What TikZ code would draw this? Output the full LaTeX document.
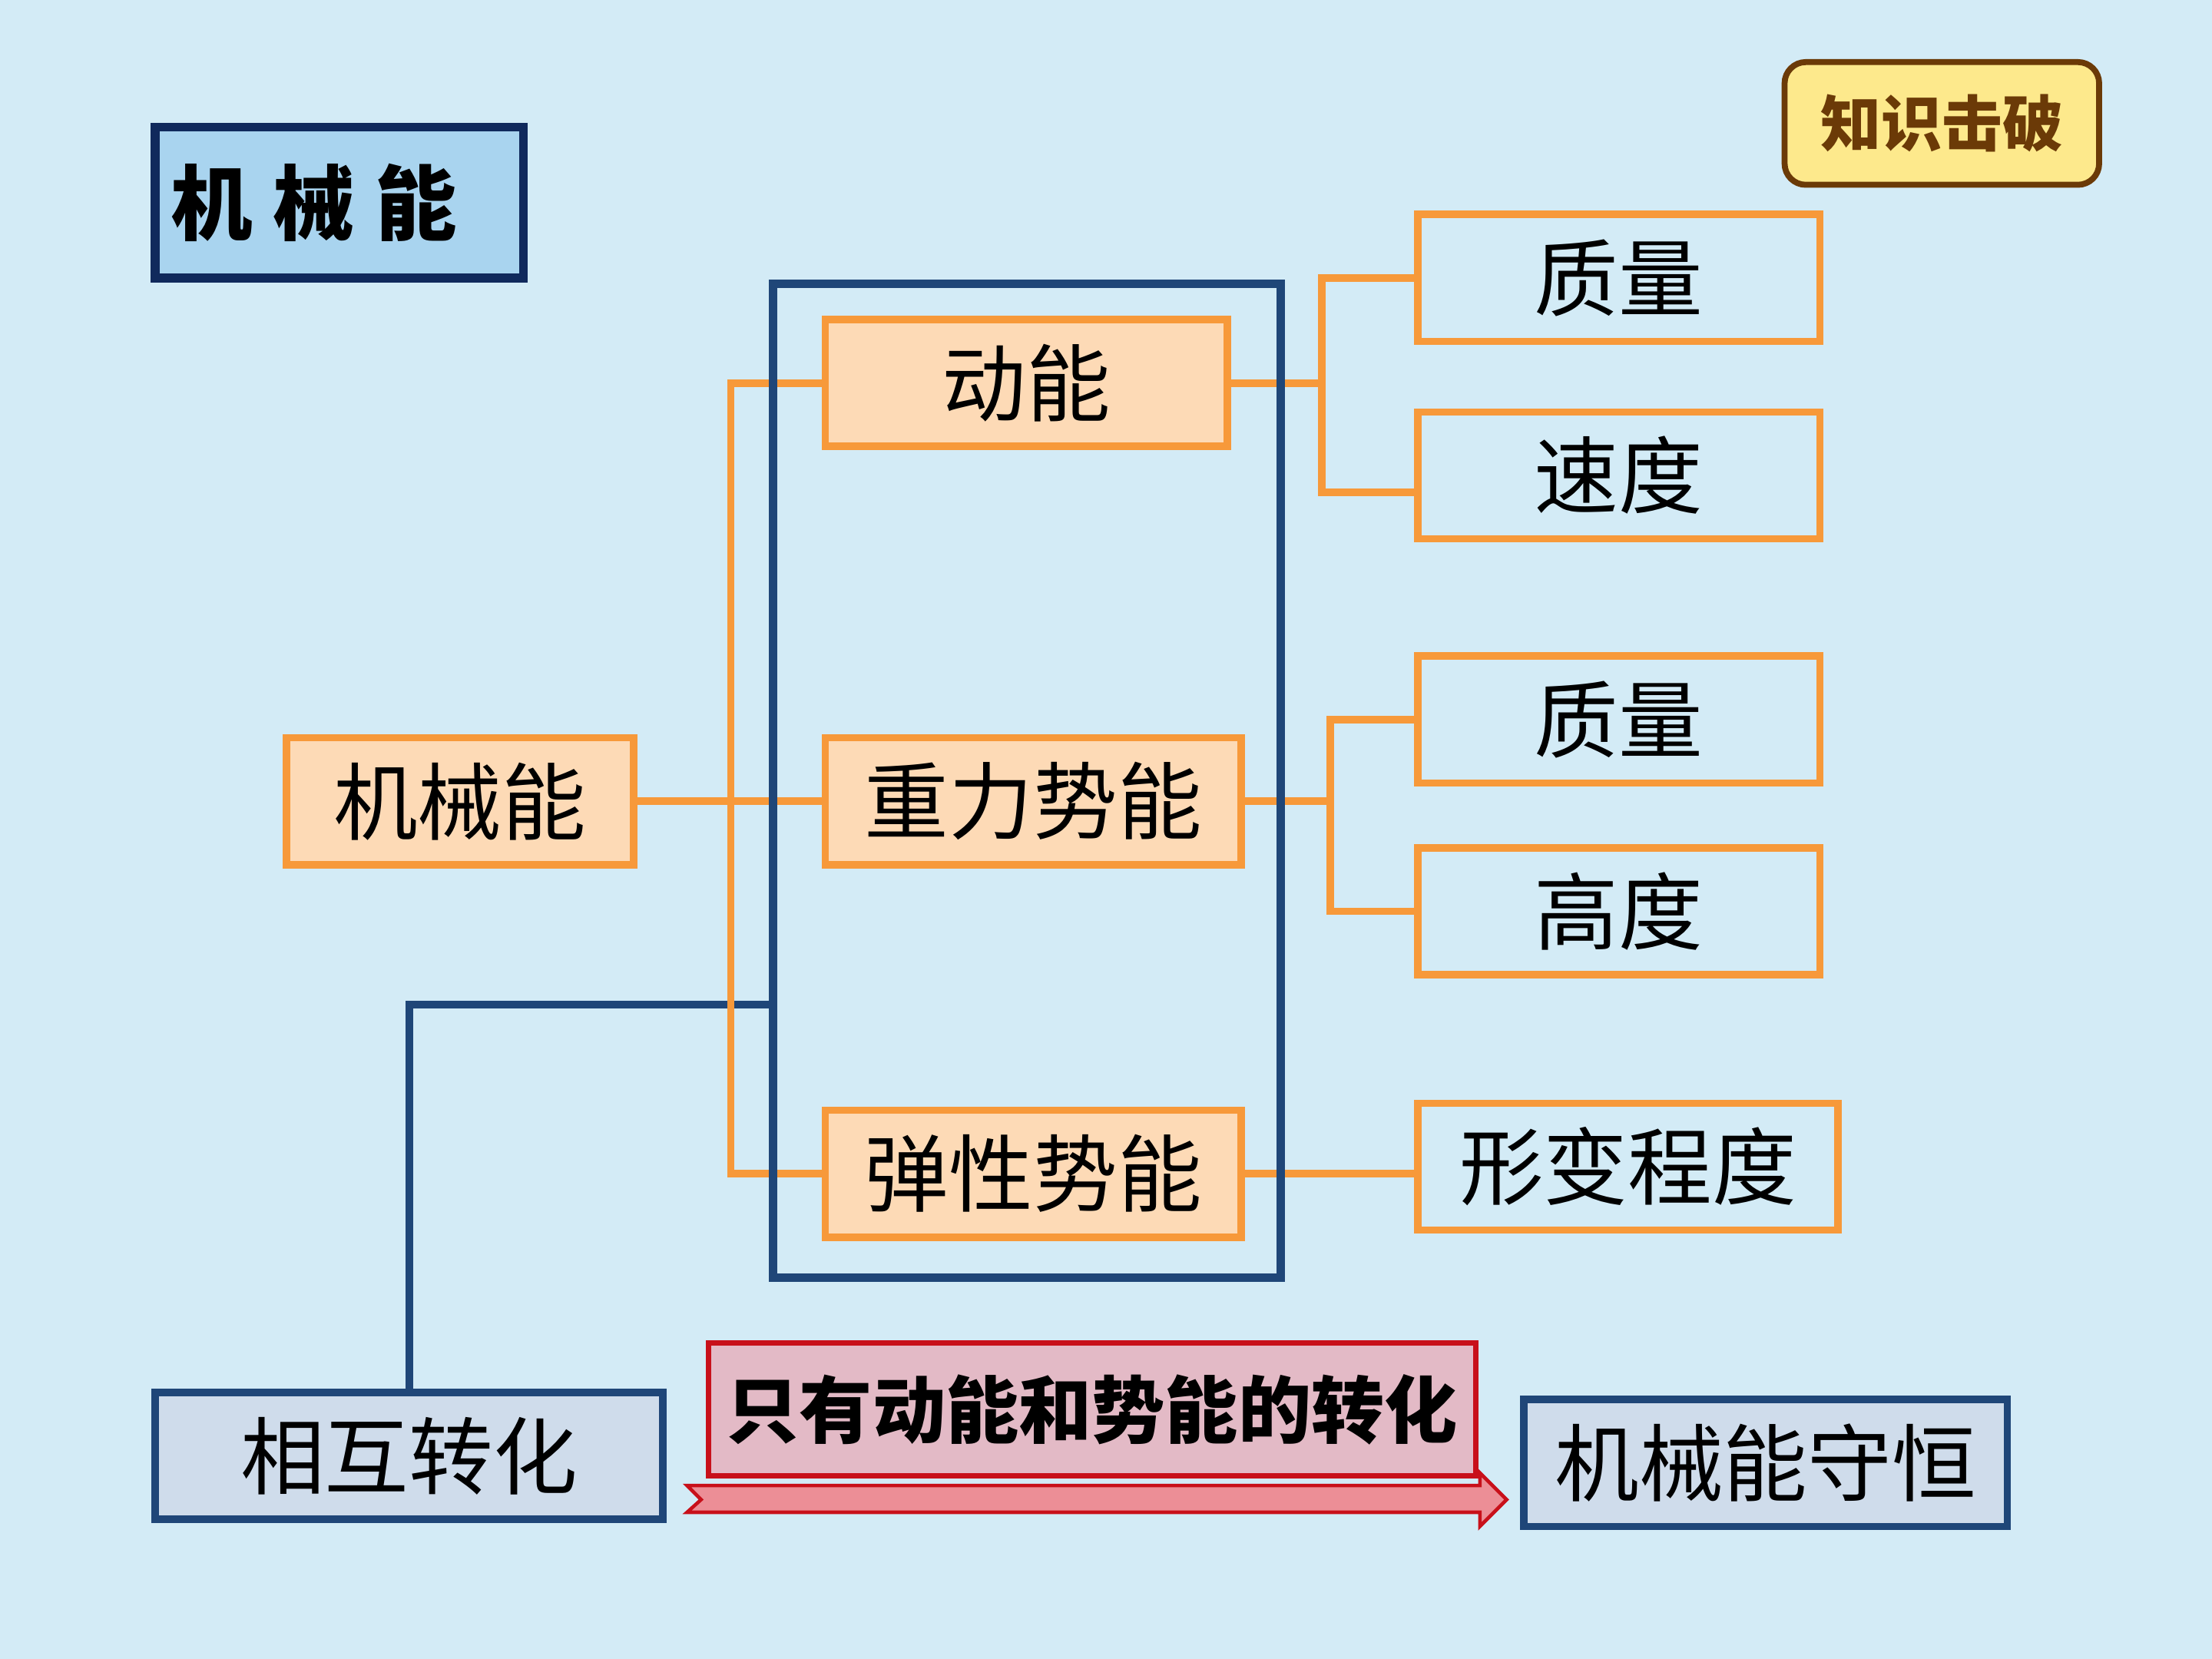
\documentclass[tikz,border=0pt]{standalone}
\usepackage{fontspec}
\setmainfont{Noto Sans CJK SC}
\usepackage{tikz}
\usetikzlibrary{calc,backgrounds}
\usepackage{xcolor}
\definecolor{jxBg}{HTML}{D3EBF6}
\definecolor{jxOrange}{HTML}{F7993A}
\definecolor{jxPeach}{HTML}{FDDAB6}
\definecolor{jxNavy}{HTML}{1F4678}
\definecolor{jxDeep}{HTML}{10295C}
\definecolor{jxSky}{HTML}{A9D4EF}
\definecolor{jxGrey}{HTML}{CFDCEB}
\definecolor{jxRed}{HTML}{C8101A}
\definecolor{jxPink}{HTML}{E3BAC6}
\definecolor{jxArrow}{HTML}{EC8E96}
\definecolor{jxBrown}{HTML}{6B3A07}
\definecolor{jxCream}{HTML}{FDE98C}
\tikzset{
    % boxes of the tree
    item/.style={rectangle,draw=jxOrange,fill=jxPeach,line width=3pt,minimum height=1.8cm,inner sep=0pt,font=\fontsize{34}{40}\selectfont},
    leaf/.style={item,fill=none},
    summary/.style={rectangle,draw=jxNavy,fill=jxGrey,line width=3pt,minimum height=1.8cm,inner sep=0pt,font=\fontsize{34}{40}\selectfont},
    framebox/.style={rectangle,draw=jxNavy,line width=3.4pt,minimum width=7.2cm,minimum height=14.1cm},
    % connectors
    link/.style={draw=jxOrange,line width=3pt},
    navylink/.style={draw=jxNavy,line width=3pt}
}

\begin{document}
\begin{tikzpicture}[x=0.02cm,y=-0.02cm,
    titlebox/.style={rectangle,draw=jxDeep,fill=jxSky,line width=3.6pt,minimum height=2.14cm,text width=4.78cm,inner xsep=0.22cm,align=left,font=\fontsize{33}{40}\selectfont\bfseries},
    tagbox/.style={rectangle,rounded corners=0.3cm,draw=jxBrown,fill=jxCream,line width=2.4pt,minimum width=4.46cm,minimum height=1.74cm,text=jxBrown,font=\fontsize{24.5}{30}\selectfont\bfseries},
    note/.style={rectangle,draw=jxRed,fill=jxPink,line width=2.2pt,minimum width=10.88cm,minimum height=1.88cm,inner sep=0pt,font=\fontsize{29.5}{34}\selectfont\bfseries}
]
  \useasboundingbox (0,0) rectangle (1568,1176);
  \begin{scope}[on background layer]
    \fill[jxBg] (0,0) rectangle (1568,1176);
  \end{scope}

  % headings
  \node[titlebox] (title) at (240.5,143.5) {机\hspace{.25em}械\hspace{.25em}能};
  \node[tagbox] (tag) at (1376.5,87.5) {知识击破};

  % tree
  \node[item,minimum width=4.92cm] (jxn) at (326,568) {机械能};
  \node[item,minimum width=5.7cm] (dn) at (727.5,271.5) {动能};
  \node[item,minimum width=5.9cm] (zl) at (732.5,568) {重力势能};
  \node[item,minimum width=5.9cm] (tx) at (732.5,832) {弹性势能};
  \node[framebox] (box) at (728,553.5) {};

  \node[leaf,minimum width=5.7cm] (zl1) at (1147.5,197) {质量};
  \node[leaf,minimum width=5.7cm] (sd) at (1147.5,337) {速度};
  \node[leaf,minimum width=5.7cm] (zl2) at (1147.5,510) {质量};
  \node[leaf,minimum width=5.7cm] (gd) at (1147.5,646) {高度};
  \node[leaf,minimum width=5.96cm] (xb) at (1154,827) {形变程度};

  % bottom row
  \node[summary,minimum width=7.2cm] (hx) at (290,1032) {相互转化};
  \node[note] (only) at (774,999) {只有动能和势能的转化};
  \node[summary,minimum width=6.86cm] (sh) at (1251.5,1037) {机械能守恒};
  \draw[fill=jxArrow,draw=jxRed,line width=1.4pt] (487,1053) -- (1049,1053) -- (1049,1044) -- (1068,1063) -- (1049,1082) -- (1049,1072) -- (487,1072) -- (497,1063) -- cycle;

  % connectors
  \coordinate (lbus) at (518,0);
  \coordinate (rbus1) at (937,0);
  \coordinate (rbus2) at (943,0);
  \coordinate (turn) at (290,712);
  \begin{scope}[on background layer]
    \draw[navylink] (hx.north) -- (turn) -- (turn -| box.west);
    \draw[link] (jxn.east) -- (jxn.east -| lbus);
    \draw[link] (dn.west) -- (dn.west -| lbus) -- (tx.west -| lbus) -- (tx.west);
    \draw[link] (zl.west) -- (zl.west -| lbus);
    \draw[link] (dn.east) -- (dn.east -| rbus1);
    \draw[link] (zl1.west) -- (zl1.west -| rbus1) -- ([yshift=-0.24cm]sd.west -| rbus1) -- ([yshift=-0.24cm]sd.west);
    \draw[link] (zl.east) -- (zl.east -| rbus2);
    \draw[link] (zl2.west) -- (zl2.west -| rbus2) -- (gd.west -| rbus2) -- (gd.west);
    \draw[link] (tx.east) -- (tx.east -| xb.west);
  \end{scope}
\end{tikzpicture}
\end{document}
